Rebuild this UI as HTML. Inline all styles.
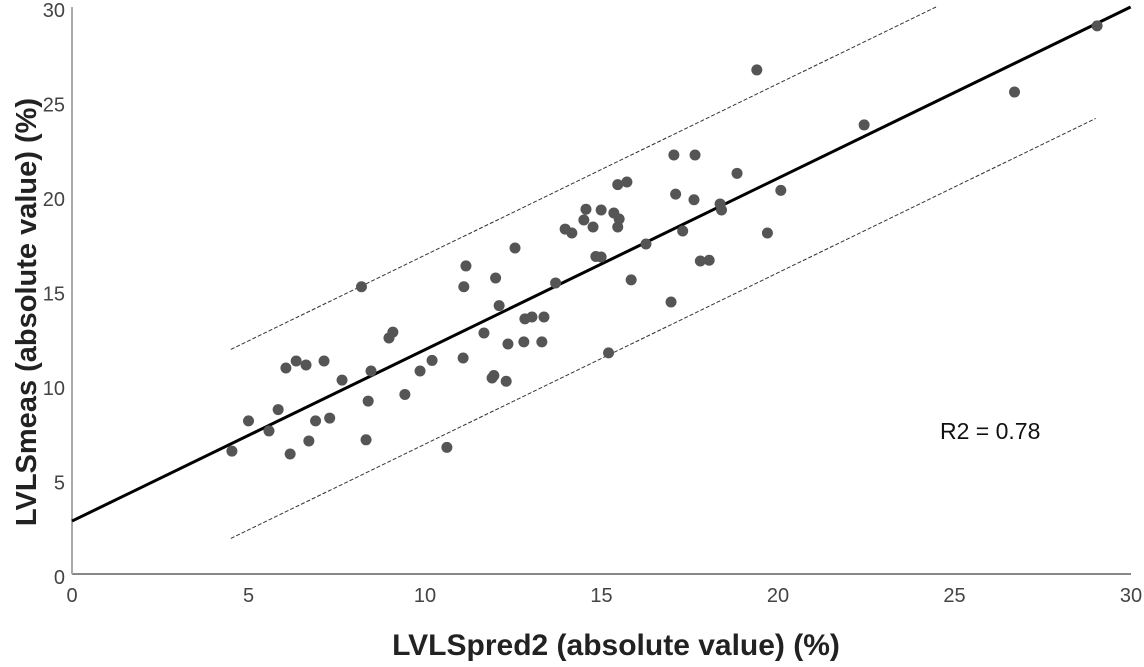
<!DOCTYPE html>
<html><head><meta charset="utf-8"><style>
html,body{margin:0;padding:0;background:#fff;}
svg{display:block;font-family:"Liberation Sans",Arial,sans-serif;}
</style></head><body>
<svg id="chart" width="1144" height="667">
<g id="axes"></g>
<g id="lines"></g>
<g id="points"></g>
<text x="940" y="439" font-size="23" fill="#111">R2 = 0.78</text>
<text x="616" y="655" font-size="30" font-weight="bold" text-anchor="middle" fill="#222">LVLSpred2 (absolute value) (%)</text>
<text transform="translate(36,312) rotate(-90)" font-size="29" font-weight="bold" text-anchor="middle" fill="#222">LVLSmeas (absolute value) (%)</text>
</svg>
<script>
const xTicks=[0,5,10,15,20,25,30];
const yTicks=[0,5,10,15,20,25,30];
const xs=[4.53,5.0,5.58,5.84,6.06,6.18,6.35,6.63,6.71,6.9,7.14,7.3,7.65,8.2,8.33,8.39,8.47,8.98,9.09,9.43,9.86,10.2,10.62,11.08,11.1,11.16,11.9,11.95,12.0,12.1,12.3,12.35,12.55,11.67,12.8,12.83,13.03,13.31,13.37,13.7,13.97,14.16,14.5,14.56,14.76,14.84,14.99,14.99,15.35,15.46,15.46,15.5,15.2,15.72,15.84,16.26,16.97,17.05,17.1,17.3,17.62,17.65,17.8,18.05,18.36,18.4,18.84,19.7,19.4,20.08,22.44,26.7,29.04];
const ys=[6.5,8.1,7.57,8.7,10.9,6.35,11.27,11.06,7.04,8.1,11.27,8.25,10.26,15.2,7.1,9.15,10.74,12.49,12.8,9.5,10.74,11.3,6.7,11.43,15.2,16.3,10.37,10.5,15.66,14.2,10.2,12.17,17.25,12.75,12.28,13.5,13.6,12.28,13.6,15.4,18.25,18.04,18.73,19.3,18.36,16.8,16.77,19.26,19.1,20.6,18.36,18.78,11.7,20.74,15.56,17.46,14.39,22.17,20.1,18.15,19.8,22.17,16.56,16.6,19.58,19.26,21.2,18.04,26.67,20.3,23.76,25.5,29.0];
const fitIntercept=[2.8];
const fitSlope=[0.907];
const bandOffset=[5];
const NS='http://www.w3.org/2000/svg';
const X=v=>72+35.3*v, Y=v=>574-18.9*v;
function mk(t,a,p){const e=document.createElementNS(NS,t);for(const k in a)e.setAttribute(k,a[k]);p.appendChild(e);return e;}
const ax=document.getElementById('axes');
let l=mk('line',{x1:72,y1:Y(0),x2:X(30),y2:Y(0),stroke:'#888','stroke-width':2},ax);


l=mk('line',{x1:72,y1:Y(0),x2:72,y2:Y(30),stroke:'#aaa','stroke-width':2},ax);


xTicks.forEach(t=>{const e=mk('text',{x:X(t),y:602,'font-size':20,fill:'#444','text-anchor':'middle'},ax);e.textContent=t;

});
yTicks.forEach(t=>{const e=mk('text',{x:65,y:Y(t)+10,'font-size':20,fill:'#444','text-anchor':'end'},ax);e.textContent=t;

});
const ln=document.getElementById('lines');
const b=fitIntercept[0],m=fitSlope[0],o=bandOffset[0];
const x1=(30-b)/m;
l=mk('line',{x1:X(0),y1:Y(b),x2:X(x1),y2:Y(30),stroke:'#000','stroke-width':3},ln);


const ux=(30-b-o)/m;
l=mk('line',{x1:X(4.5),y1:Y(b+o+m*4.5),x2:X(ux),y2:Y(30),stroke:'#333','stroke-width':1,'stroke-dasharray':'4,2'},ln);


l=mk('line',{x1:X(4.5),y1:Y(b-o+m*4.5),x2:X(29),y2:Y(b-o+m*29),stroke:'#333','stroke-width':1,'stroke-dasharray':'4,2'},ln);


const pg=document.getElementById('points');
xs.forEach((x,i)=>{const c=mk('circle',{cx:X(x),cy:Y(ys[i]),r:5.5,fill:'#555'},pg);

});
</script>
</body></html>
